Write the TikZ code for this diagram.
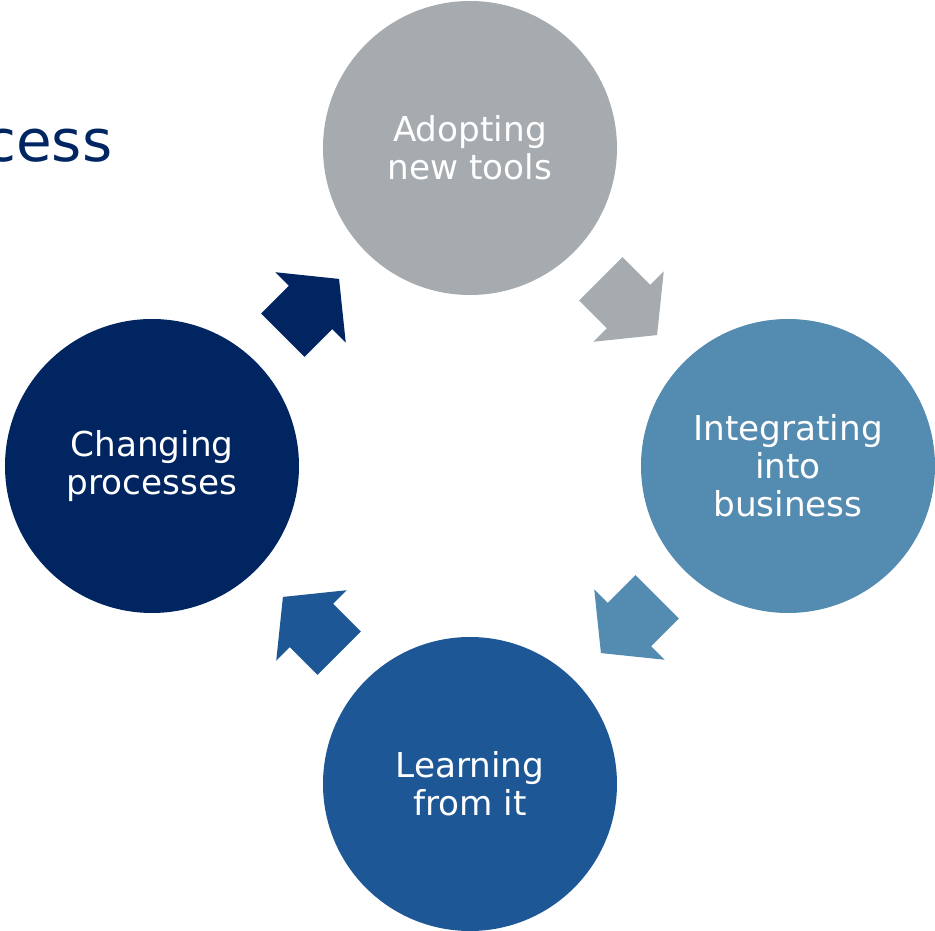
\documentclass[tikz,border=0pt]{standalone}
\usepackage{fontspec}
\setmainfont{DejaVu Sans}
\usepackage{tikz}
\usetikzlibrary{positioning,shapes.arrows}
\definecolor{toolgray}{HTML}{A5ABAF}
\definecolor{steelblue}{HTML}{548BB0}
\definecolor{midblue}{HTML}{1E5796}
\definecolor{navy}{HTML}{002561}

\begin{document}
\begin{tikzpicture}
[phase/.style={circle, minimum size=5.88cm, inner sep=0pt, outer sep=0pt, text=white, align=center, font=\fontsize{19.5}{21.6}\selectfont},
blockarrow/.style={single arrow, single arrow head extend=0.384cm, single arrow tip angle=102, inner xsep=0pt, inner ysep=0.606cm, minimum height=1.59cm, outer sep=0pt, anchor=tail},
]
\useasboundingbox (-9.4,-9.3) rectangle (9.3,9.32);
\coordinate (c) at (0,0);

% title, running off the left edge
\node[anchor=base west, inner sep=0pt, text=navy, font=\fontsize{33}{38}\selectfont] (title) at (-9.72,6.08) {cess};

\node[phase, fill=toolgray]	(adopt) [above=3.42cm of c] {Adopting\\new tools};
\node[phase, fill=steelblue]	(integrate) [right=3.42cm of c] {Integrating\\into\\business};
\node[phase, fill=midblue]	(learn) [below=3.42cm of c] {Learning\\from it};
\node[phase, fill=navy]	(change) [left=3.42cm of c] {Changing\\processes};

% arrows, placed by their tails
\node[blockarrow, fill=toolgray, rotate=-45]	(a1) at (2.617,3.743) {};
\node[blockarrow, fill=steelblue, rotate=-135]	(a2) at (3.743,-2.617) {};
\node[blockarrow, fill=midblue, rotate=135]	(a3) at (-2.617,-3.743) {};
\node[blockarrow, fill=navy, rotate=45]	(a4) at (-3.743,2.617) {};
\end{tikzpicture}
\end{document}
